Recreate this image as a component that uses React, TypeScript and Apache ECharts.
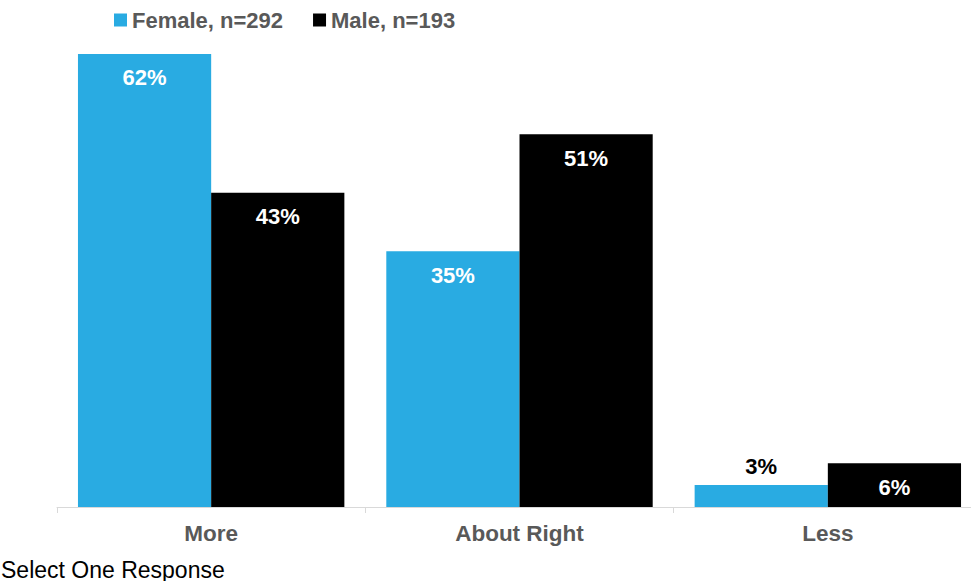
import React, { useEffect, useRef } from "react";
import * as echarts from "echarts";

const categories = ["More", "About Right", "Less"];
const femaleValues = [62, 35, 3];
const maleValues = [43, 51, 6];
const seriesNames = ["Female, n=292", "Male, n=193"];
const footnote = "Select One Response";

const FONT = "Arial, 'Liberation Sans', sans-serif";

export default function App() {
  const ref = useRef<HTMLDivElement>(null);
  useEffect(() => {
    if (!ref.current) return;
    const chart = echarts.init(ref.current, undefined, { renderer: "svg" });
    const labelFor = (vals: number[]) =>
      vals.map((v) => ({
        value: v,
        label:
          v < 5
            ? { position: "top", color: "#000000", distance: 8 }
            : { position: "insideTop", color: "#ffffff", distance: 13 },
      }));
    const barLabel = {
      show: true,
      formatter: "{c}%",
      fontSize: 22,
      fontWeight: "bold",
      fontFamily: FONT,
    };
    chart.setOption({
      animation: false,
      textStyle: { fontFamily: FONT },
      legend: {
        left: 109,
        top: 4,
        itemWidth: 13,
        itemHeight: 13,
        itemGap: 30,
        icon: "rect",
        textStyle: { fontSize: 22, fontWeight: "bold", color: "#595959", fontFamily: FONT },
        data: seriesNames,
      },
      grid: { left: 57, top: 32, right: 0, height: 475, containLabel: false },
      xAxis: {
        type: "category",
        data: categories,
        axisLine: { show: true, lineStyle: { color: "#d9d9d9", width: 1 } },
        axisTick: { show: true, length: 6, lineStyle: { color: "#d9d9d9" } },
        axisLabel: {
          fontSize: 22.5,
          fontWeight: "bold",
          color: "#595959",
          margin: 15,
          fontFamily: FONT,
        },
      },
      yAxis: {
        type: "value",
        min: 0,
        max: 65,
        show: false,
        splitLine: { show: false },
      },
      series: [
        {
          name: seriesNames[0],
          type: "bar",
          data: labelFor(femaleValues),
          itemStyle: { color: "#29abe2" },
          barGap: "0%",
          barCategoryGap: "13.6%",
          label: barLabel,
        },
        {
          name: seriesNames[1],
          type: "bar",
          data: labelFor(maleValues),
          itemStyle: { color: "#000000" },
          barGap: "0%",
          barCategoryGap: "13.6%",
          label: barLabel,
        },
      ],
      graphic: [
        {
          type: "text",
          x: 1,
          y: 581,
          style: {
            text: footnote,
            fontSize: 23,
            fill: "#000000",
            fontFamily: FONT,
            verticalAlign: "bottom",
          },
        },
      ],
    });
    return () => chart.dispose();
  }, []);
  return (
    <div style={{ position: "fixed", left: 0, top: 0, width: 971, height: 581, overflow: "hidden", background: "#fff" }}>
      <div ref={ref} style={{ position: "absolute", left: 0, top: 0, width: 982, height: 581 }} />
    </div>
  );
}
